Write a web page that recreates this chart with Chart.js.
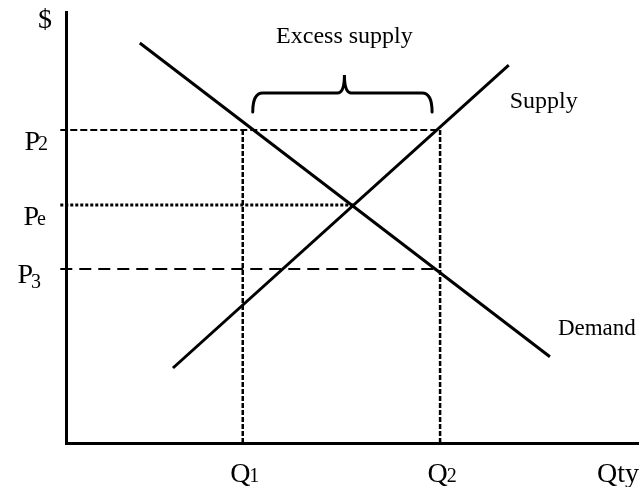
<!DOCTYPE html>
<html>
<head>
<meta charset="utf-8">
<script src="https://cdn.jsdelivr.net/npm/chart.js@4.4.1/dist/chart.umd.min.js"></script>
<style>
  html, body { margin: 0; padding: 0; background: #fff; }
  #wrap { width: 641px; height: 487px; }
</style>
</head>
<body>
<div id="wrap"><canvas id="chart" width="641" height="487"></canvas></div>
<script>
// curve end points (quantity, price)
const demandX = [1.29, 8.46];
const demandY = [9.28, 2.00];
const supplyX = [1.87, 7.74];
const supplyY = [1.74, 8.77];
// price levels: P2, Pe, P3
const priceValues = [7.26, 5.52, 4.04];
const priceNames = ['P', 'P', 'P'];
const priceSubs = ['2', 'e', '3'];
// quantities: Q1, Q2
const qtyValues = [3.09, 6.54];
const qtyNames = ['Q', 'Q'];
const qtySubs = ['1', '2'];
const eqQty = 5.02;

const SERIF = '"Liberation Serif", "Times New Roman", serif';

function pts(xs, ys) { return xs.map((x, i) => ({ x, y: ys[i] })); }

function guide(data, dash, width) {
  return { data, borderColor: '#000', borderWidth: width, borderDash: dash,
           pointRadius: 0, showLine: true, clip: false };
}

const datasets = [
  { label: 'Demand', data: pts(demandX, demandY), borderColor: '#000', borderWidth: 3, pointRadius: 0, showLine: true },
  { label: 'Supply', data: pts(supplyX, supplyY), borderColor: '#000', borderWidth: 3, pointRadius: 0, showLine: true },
  guide([{ x: -0.1, y: priceValues[0] }, { x: qtyValues[1], y: priceValues[0] }], [7, 3], 2),
  guide([{ x: -0.1, y: priceValues[1] }, { x: eqQty, y: priceValues[1] }], [3, 2], 3),
  guide([{ x: -0.1, y: priceValues[2] }, { x: qtyValues[1], y: priceValues[2] }], [12, 7], 2),
  guide([{ x: qtyValues[0], y: 0 }, { x: qtyValues[0], y: priceValues[0] }], [5, 2], 2.5),
  guide([{ x: qtyValues[1], y: 0 }, { x: qtyValues[1], y: priceValues[0] }], [5, 2], 2.5)
];

function drawPair(ctx, main, sub, x, base, align, mainSize, subSize, drop, kern) {
  ctx.font = mainSize + 'px ' + SERIF;
  const w1 = ctx.measureText(main).width;
  ctx.font = subSize + 'px ' + SERIF;
  const w2 = ctx.measureText(sub).width;
  const total = w1 + kern + w2;
  let left = x;
  if (align === 'right') left = x - total;
  if (align === 'center') left = x - total / 2;
  ctx.textAlign = 'left';
  ctx.font = mainSize + 'px ' + SERIF;
  ctx.fillText(main, left, base);
  ctx.font = subSize + 'px ' + SERIF;
  ctx.fillText(sub, left + w1 + kern, base + drop);
}

const textPlugin = {
  id: 'econText',
  afterDraw(chart) {
    const { ctx, scales: { x, y } } = chart;
    ctx.save();
    ctx.fillStyle = '#000';
    ctx.strokeStyle = '#000';
    ctx.textBaseline = 'alphabetic';

    // price labels on the left
    const pStyle = [{ r: 48, dy: 20, drop: 0 }, { r: 46, dy: 20, drop: 0 }, { r: 41, dy: 14, drop: 5 }];
    priceValues.forEach((v, i) => {
      const py = y.getPixelForValue(v);
      const s = pStyle[i];
      drawPair(ctx, priceNames[i], priceSubs[i], s.r, py + s.dy, 'right', 28, 20, s.drop, -2);
    });

    // quantity labels below
    const base = y.getPixelForValue(0) + 39;
    qtyValues.forEach((v, i) => {
      drawPair(ctx, qtyNames[i], qtySubs[i], x.getPixelForValue(v) + 2, base, 'center', 28, 20, 0, -1);
    });
    ctx.font = '28px ' + SERIF;
    ctx.textAlign = 'left';
    ctx.fillText('Qty', x.right - 41, base);
    ctx.textAlign = 'center';
    ctx.fillText('$', 45, y.top + 16);

    // bracket over the excess supply
    const bx1 = x.getPixelForValue(qtyValues[0]) + 10;
    const bx2 = x.getPixelForValue(qtyValues[1]) - 8;
    const by = y.getPixelForValue(priceValues[0]) - 37;
    const mid = (bx1 + bx2) / 2 + 2;
    ctx.lineWidth = 3;
    ctx.lineCap = 'round';
    ctx.beginPath();
    ctx.moveTo(bx1, by + 19);
    ctx.quadraticCurveTo(bx1, by, bx1 + 10, by);
    ctx.lineTo(mid - 7, by);
    ctx.quadraticCurveTo(mid, by, mid, by - 18);
    ctx.quadraticCurveTo(mid, by, mid + 7, by);
    ctx.lineTo(bx2 - 10, by);
    ctx.quadraticCurveTo(bx2, by, bx2, by + 19);
    ctx.stroke();

    ctx.font = '24px ' + SERIF;
    ctx.textAlign = 'center';
    ctx.fillText('Excess supply', mid, by - 50);

    // curve names
    ctx.textAlign = 'left';
    ctx.fillText('Supply', x.getPixelForValue(supplyX[1]) + 1, y.getPixelForValue(supplyY[1]) + 43);
    ctx.font = '23px ' + SERIF;
    ctx.fillText('Demand', x.getPixelForValue(demandX[1]) + 8, y.getPixelForValue(demandY[1]) - 22);
    ctx.restore();
  }
};

const axisOpts = {
  type: 'linear', min: 0, max: 10,
  grid: { display: false, drawTicks: false },
  ticks: { display: false },
  border: { display: true, width: 3, color: '#000' }
};

new Chart(document.getElementById('chart'), {
  type: 'scatter',
  data: { datasets },
  options: {
    responsive: false,
    animation: false,
    layout: { padding: { left: 66, top: 12, right: 3, bottom: 44 } },
    plugins: { legend: { display: false }, tooltip: { enabled: false } },
    scales: { x: { ...axisOpts }, y: { ...axisOpts } }
  },
  plugins: [textPlugin]
});
</script>
</body>
</html>
